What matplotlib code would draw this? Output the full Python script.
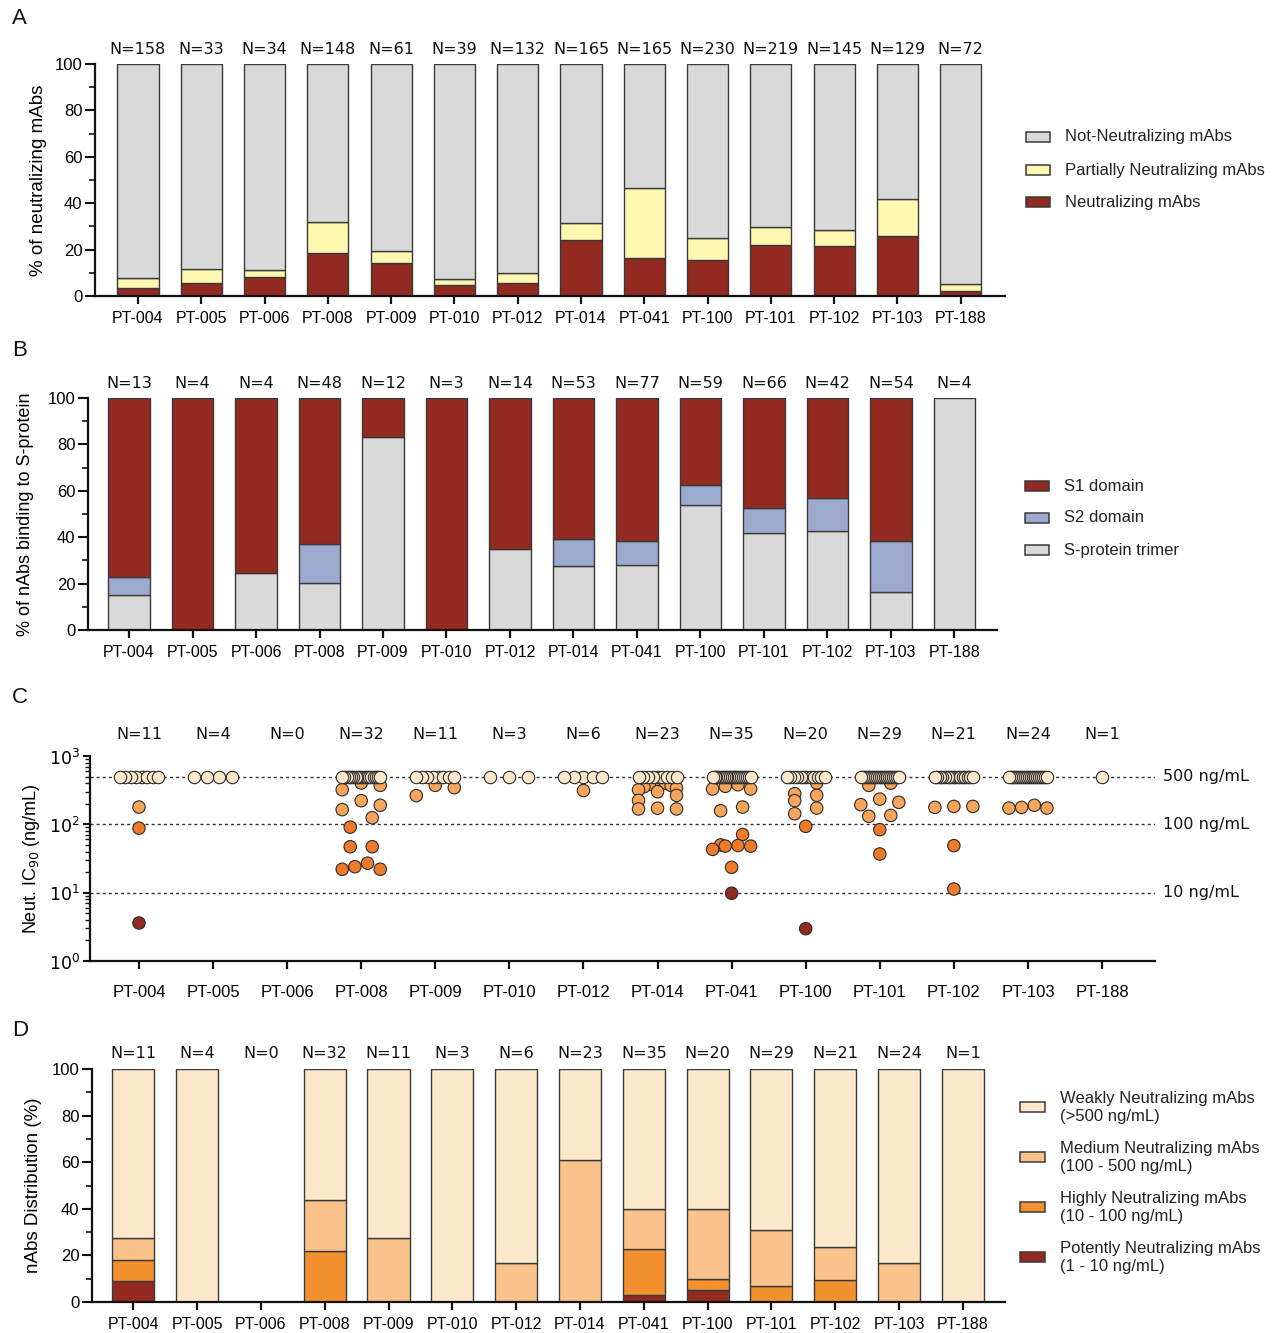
import numpy as np
import matplotlib
matplotlib.use('Agg')
import matplotlib.pyplot as plt
from matplotlib.patches import Rectangle
import matplotlib.transforms as mtransforms

plt.rcParams['font.family'] = ['Liberation Sans', 'DejaVu Sans']
plt.rcParams['mathtext.fontset'] = 'dejavusans'

# ---------------- data ----------------
patients = ['PT-004', 'PT-005', 'PT-006', 'PT-008', 'PT-009', 'PT-010', 'PT-012',
            'PT-014', 'PT-041', 'PT-100', 'PT-101', 'PT-102', 'PT-103', 'PT-188']

# Panel A (% of mAbs)
a_n = [158, 33, 34, 148, 61, 39, 132, 165, 165, 230, 219, 145, 129, 72]
a_neutralizing = [3.3, 5.5, 8.4, 18.5, 14.4, 4.8, 5.5, 24.2, 16.4, 15.7, 21.9, 21.6, 26.0, 2.3]
a_partial = [4.4, 6.0, 3.0, 13.4, 4.8, 2.4, 4.6, 7.4, 30.2, 9.5, 7.8, 6.8, 15.6, 2.7]

# Panel B (% of nAbs binding to S-protein)
b_n = [13, 4, 4, 48, 12, 3, 14, 53, 77, 59, 66, 42, 54, 4]
b_trimer = [14.9, 0, 24.5, 20.3, 83.1, 0, 35.1, 27.7, 28.0, 53.8, 42.0, 42.6, 16.5, 100]
b_s2 = [7.8, 0, 0, 16.6, 0, 0, 0, 11.4, 10.4, 8.5, 10.7, 14.3, 22.0, 0]

# Panel C (IC90 ng/mL; 500 = >=500 ng/mL)
c_n = [11, 4, 0, 32, 11, 3, 6, 23, 35, 20, 29, 21, 24, 1]
c_ic90 = [
    [500, 500, 500, 500, 500, 500, 500, 500, 179, 88, 3.6],
    [500, 500, 500, 500],
    [],
    [500, 500, 500, 500, 500, 500, 500, 500, 500, 500, 500, 500, 500, 500, 500, 500, 500, 500,
     403, 372, 321, 222, 190, 164, 125, 91, 47, 47, 27, 24, 22, 22],
    [500, 500, 500, 500, 500, 500, 500, 500, 372, 344, 263],
    [500, 500, 500],
    [500, 500, 500, 500, 500, 321],
    [500, 500, 500, 500, 500, 500, 500, 500, 500,
     440, 420, 400, 385, 370, 355, 340, 320, 300, 265, 224, 172, 168, 168],
    [500, 500, 500, 500, 500, 500, 500, 500, 500, 500, 500, 500, 500, 500, 500, 500, 500, 500,
     500, 500, 500, 380, 360, 329, 329, 179, 158, 71, 50, 49, 48, 48, 43, 23.5, 9.8],
    [500, 500, 500, 500, 500, 500, 500, 500, 500, 500, 500, 500,
     403, 281, 266, 222, 173, 143, 93.5, 2.97],
    [500, 500, 500, 500, 500, 500, 500, 500, 500, 500, 500, 500, 500, 500, 500, 500, 500, 500,
     500, 500, 400, 372, 234, 210, 194, 135, 131, 83.6, 36.8],
    [500, 500, 500, 500, 500, 500, 500, 500, 500, 500, 500, 500, 500, 500, 500, 500,
     183, 183, 177, 48.8, 11.3],
    [500, 500, 500, 500, 500, 500, 500, 500, 500, 500, 500, 500, 500, 500, 500, 500, 500, 500,
     500, 500, 190, 177, 173, 173],
    [500],
]
c_thresholds = [500, 100, 10]
c_threshold_labels = ['500 ng/mL', '100 ng/mL', '10 ng/mL']

# Panel D (% distribution)
d_n = c_n
d_potent = [9.1, 0, 0, 0, 0, 0, 0, 0, 2.9, 5.0, 0, 0, 0, 0]
d_highly = [9.1, 0, 0, 21.9, 0, 0, 0, 0, 20.0, 5.0, 6.9, 9.5, 0, 0]
d_medium = [9.1, 0, 0, 21.9, 27.3, 0, 16.7, 60.9, 17.1, 30.0, 24.1, 14.3, 16.7, 0]

# ---------------- style ----------------
W, H = 1277, 1333
fig = plt.figure(figsize=(W / 100, H / 100), dpi=100)

EDGE = '#3a3a3a'
GRAY = '#D9D9D9'
YELLOW = '#FFF8B0'
RED = '#922A22'
BLUE = '#9DA9CF'
WEAK = '#FDE8CB'
MEDIUM = '#F9C28A'
HIGHLY = '#F2912E'
DOT_MEDIUM = '#F6A55A'
DOT_HIGHLY = '#EE7A2A'


def fb(l, t, r, b):
    return [l / W, 1 - b / H, (r - l) / W, (b - t) / H]


def style(ax, xpad=5):
    for s in ['top', 'right']:
        ax.spines[s].set_visible(False)
    for s in ['left', 'bottom']:
        ax.spines[s].set_linewidth(1.6)
        ax.spines[s].set_color('#111111')
    ax.tick_params(axis='y', which='major', length=7, width=1.5, labelsize=12, pad=2, color='#111111')
    ax.tick_params(axis='y', which='minor', length=4, width=1.2, color='#111111')
    ax.tick_params(axis='x', which='major', length=6, width=1.6, labelsize=11.5, pad=xpad, color='#111111')
    ax.tick_params(axis='x', which='minor', length=0)


def n_labels(ax, ns, dy_pt):
    for i, n in enumerate(ns):
        ax.annotate(f'N={n}', xy=(i, 1), xycoords=('data', 'axes fraction'),
                    xytext=(0, dy_pt), textcoords='offset points', ha='center', va='center',
                    fontsize=11.5, family='DejaVu Sans', color='#111111')


def stacked(ax, x, layers, colors, width):
    bottom = np.zeros(len(x))
    for vals, col in zip(layers, colors):
        vals = np.asarray(vals, float)
        m = vals > 0
        ax.bar(x[m], vals[m], width, bottom=bottom[m], color=col, edgecolor=EDGE, linewidth=1.0, zorder=2)
        bottom = bottom + vals


def legend_block(entries, px, pw, ph, tx, fontsize=12):
    for (py, color, label) in entries:
        fig.add_artist(Rectangle((px / W, 1 - (py + ph / 2) / H), pw / W, ph / H,
                                 transform=fig.transFigure, facecolor=color, edgecolor=EDGE, lw=1.1))
        fig.text(tx / W, 1 - py / H, label, fontsize=fontsize, va='center', ha='left',
                 color='#222222', linespacing=1.25)


x = np.arange(len(patients))

# ---------------- Panel A ----------------
axA = fig.add_axes(fb(95, 64, 1005, 296))
a_not = 100 - np.array(a_neutralizing) - np.array(a_partial)
stacked(axA, x, [a_neutralizing, a_partial, a_not], [RED, YELLOW, GRAY], 0.65)
axA.set_xlim(-0.679, 13.70)
axA.set_ylim(0, 100)
axA.set_yticks(np.arange(0, 101, 20))
axA.set_yticks(np.arange(10, 100, 20), minor=True)
axA.set_xticks(x)
axA.set_xticklabels(patients)
style(axA)
axA.set_ylabel('% of neutralizing mAbs', fontsize=13.5)
axA.yaxis.set_label_coords(-0.0527, 0.5)
n_labels(axA, a_n, 10.8)
legend_block([(137, GRAY, 'Not-Neutralizing mAbs'),
              (170, YELLOW, 'Partially Neutralizing mAbs'),
              (202, RED, 'Neutralizing mAbs')], 1026, 24, 10, 1065)

# ---------------- Panel B ----------------
axB = fig.add_axes(fb(88, 398, 997, 630))
b_s1 = 100 - np.array(b_trimer) - np.array(b_s2)
stacked(axB, x, [b_trimer, b_s2, b_s1], [GRAY, BLUE, RED], 0.66)
axB.set_xlim(-0.646, 13.67)
axB.set_ylim(0, 100)
axB.set_yticks(np.arange(0, 101, 20))
axB.set_yticks(np.arange(10, 100, 20), minor=True)
axB.set_xticks(x)
axB.set_xticklabels(patients)
style(axB)
axB.set_ylabel('% of nAbs binding to S-protein', fontsize=13)
axB.yaxis.set_label_coords(-0.0594, 0.5)
n_labels(axB, b_n, 10.8)
legend_block([(486, RED, 'S1 domain'),
              (518, BLUE, 'S2 domain'),
              (550, GRAY, 'S-protein trimer')], 1025, 24, 10, 1064)

# ---------------- Panel C ----------------
axC = fig.add_axes(fb(90, 756, 1155, 961))
axC.set_yscale('log')
axC.set_ylim(1, 1000)
axC.set_xlim(-0.661, 13.715)
for v in c_thresholds:
    axC.axhline(v, color='#333333', lw=1.0, ls=(0, (2.2, 2.2)), zorder=1)
blend = mtransforms.blended_transform_factory(axC.transAxes, axC.transData)
for v, lab in zip(c_thresholds, c_threshold_labels):
    axC.text(1.0075, v, lab, transform=blend, va='center', ha='left', fontsize=11.5,
             family='DejaVu Sans', color='#111111')

px_per_unit = axC.bbox.width / (13.715 + 0.661)


def swarm_offsets(vals, cap=500, half=19.0, maxstep=22.0, binh=11.0):
    vals = np.asarray(vals, float)
    off = np.zeros(len(vals))
    if len(vals) == 0:
        return off
    ypix = axC.transData.transform(np.column_stack([np.zeros(len(vals)), vals]))[:, 1]
    groups = []
    capped = [i for i in range(len(vals)) if vals[i] >= cap]
    if capped:
        groups.append(capped)
    rest = [i for i in np.argsort(-vals, kind='stable') if vals[i] < cap]
    cur, start = [], None
    for i in rest:
        if cur and start - ypix[i] > binh:
            groups.append(cur)
            cur = []
        if not cur:
            start = ypix[i]
        cur.append(i)
    if cur:
        groups.append(cur)
    for g in groups:
        n = len(g)
        if n == 1:
            continue
        step = min(maxstep, 2 * half / (n - 1))
        slots = (np.arange(n) - (n - 1) / 2) * step
        order = np.lexsort((-slots, np.round(np.abs(slots), 6)))
        for k, i in enumerate(g):
            off[i] = slots[order[k]]
    return off / px_per_unit


def dot_color(v):
    if v >= 500:
        return WEAK
    if v >= 100:
        return DOT_MEDIUM
    if v >= 10:
        return DOT_HIGHLY
    return RED


for i, vals in enumerate(c_ic90):
    if not vals:
        continue
    vals = np.asarray(vals, float)
    offs = swarm_offsets(vals)
    cols = [dot_color(v) for v in vals]
    weak = vals >= 500
    other = ~weak
    if other.any():
        axC.scatter(i + offs[other], vals[other], s=80, c=[c for c, o in zip(cols, other) if o],
                    edgecolors='#2b2b2b', linewidths=0.8, zorder=3)
    if weak.any():
        axC.scatter(i + offs[weak], vals[weak], s=80, c=WEAK,
                    edgecolors='#2b2b2b', linewidths=0.8, zorder=4)

axC.set_xticks(x)
axC.set_xticklabels(patients)
style(axC, xpad=11)
axC.tick_params(axis='y', which='major', length=5, labelsize=12.5)
axC.tick_params(axis='y', which='minor', length=3.5, width=1.0)
axC.tick_params(axis='x', labelsize=12)
axC.set_yticks([1, 10, 100, 1000])
axC.set_yticklabels(['$10^0$', '$10^1$', '$10^2$', '$10^3$'])
axC.set_ylabel('Neut. IC$_{90}$ (ng/mL)', fontsize=13)
axC.yaxis.set_label_coords(-0.045, 0.5)
n_labels(axC, c_n, 15.8)

# ---------------- Panel D ----------------
axD = fig.add_axes(fb(92, 1069, 1005, 1302))
d_weak = [100 - p - h - m if n > 0 else 0 for p, h, m, n in zip(d_potent, d_highly, d_medium, d_n)]
stacked(axD, x, [d_potent, d_highly, d_medium, d_weak], [RED, HIGHLY, MEDIUM, WEAK], 0.66)
axD.set_xlim(-0.647, 13.66)
axD.set_ylim(0, 100)
axD.set_yticks(np.arange(0, 101, 20))
axD.set_yticks(np.arange(10, 100, 20), minor=True)
axD.set_xticks(x)
axD.set_xticklabels(patients)
style(axD)
axD.set_ylabel('nAbs Distribution (%)', fontsize=13.5)
axD.yaxis.set_label_coords(-0.0548, 0.5)
n_labels(axD, d_n, 10.8)
legend_block([(1107, WEAK, 'Weakly Neutralizing mAbs\n(>500 ng/mL)'),
              (1157, MEDIUM, 'Medium Neutralizing mAbs\n(100 - 500 ng/mL)'),
              (1207, HIGHLY, 'Highly Neutralizing mAbs\n(10 - 100 ng/mL)'),
              (1257, RED, 'Potently Neutralizing mAbs\n(1 - 10 ng/mL)')], 1020, 25, 10, 1060)

# ---------------- panel letters ----------------
for lab, py in [('A', 18), ('B', 350), ('C', 697), ('D', 1031)]:
    fig.text(12 / W, 1 - py / H, lab, fontsize=16, va='center', ha='left', color='#111111')

fig.savefig('out.png', dpi=100)
